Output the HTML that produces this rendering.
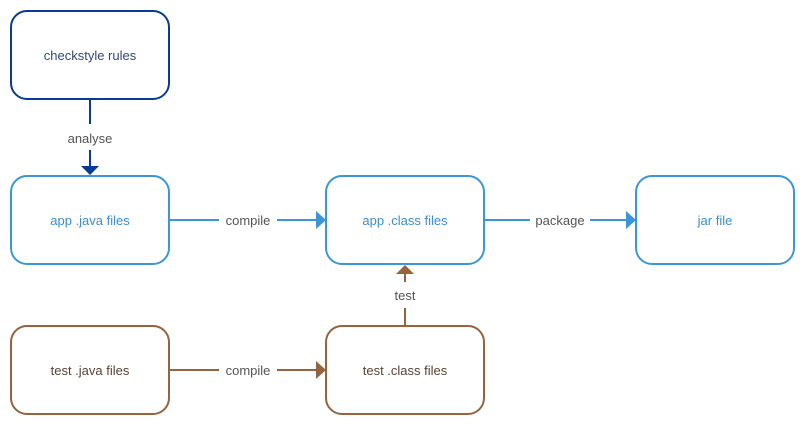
<!DOCTYPE html>
<html><head><style>body{margin:0;background:#fff}</style></head><body>
<svg width="805" height="425" xmlns="http://www.w3.org/2000/svg" font-family="Liberation Sans, sans-serif" font-size="13">
<rect x="11" y="11" width="158" height="88" rx="16" fill="#fff" stroke="#0a3a92" stroke-width="2"/>
<text x="90" y="60" text-anchor="middle" fill="#34497a">checkstyle rules</text>
<g stroke="#3a96d6" stroke-width="2" fill="#fff">
<rect x="11" y="176" width="158" height="88" rx="16"/>
<rect x="326" y="176" width="158" height="88" rx="16"/>
<rect x="636" y="176" width="158" height="88" rx="16"/>
</g>
<g fill="#3a8fcc" text-anchor="middle">
<text x="90" y="225">app .java files</text>
<text x="405" y="225">app .class files</text>
<text x="715" y="225">jar file</text>
</g>
<g stroke="#93643f" stroke-width="2" fill="#fff">
<rect x="11" y="326" width="158" height="88" rx="16"/>
<rect x="326" y="326" width="158" height="88" rx="16"/>
</g>
<g fill="#5a4232" text-anchor="middle">
<text x="90" y="375">test .java files</text>
<text x="405" y="375">test .class files</text>
</g>
<!-- analyse -->
<line x1="90" y1="99" x2="90" y2="124" stroke="#0a3a92" stroke-width="2"/>
<line x1="90" y1="150" x2="90" y2="167" stroke="#0a3a92" stroke-width="2"/>
<polygon points="81,166 99,166 90,175" fill="#0a3a92"/>
<text x="90" y="143" text-anchor="middle" fill="#555">analyse</text>
<!-- compile top -->
<line x1="169" y1="220" x2="219" y2="220" stroke="#3a96d6" stroke-width="2"/>
<line x1="277" y1="220" x2="317" y2="220" stroke="#3a96d6" stroke-width="2"/>
<polygon points="316,211 326,220 316,229" fill="#3a96d6"/>
<text x="248" y="225" text-anchor="middle" fill="#555">compile</text>
<!-- package -->
<line x1="484" y1="220" x2="530" y2="220" stroke="#3a96d6" stroke-width="2"/>
<line x1="590" y1="220" x2="627" y2="220" stroke="#3a96d6" stroke-width="2"/>
<polygon points="626,211 636,220 626,229" fill="#3a96d6"/>
<text x="560" y="225" text-anchor="middle" fill="#555">package</text>
<!-- compile bottom -->
<line x1="169" y1="370" x2="219" y2="370" stroke="#93643f" stroke-width="2"/>
<line x1="277" y1="370" x2="317" y2="370" stroke="#93643f" stroke-width="2"/>
<polygon points="316,361 326,370 316,379" fill="#93643f"/>
<text x="248" y="375" text-anchor="middle" fill="#555">compile</text>
<!-- test -->
<line x1="405" y1="326" x2="405" y2="308" stroke="#93643f" stroke-width="2"/>
<line x1="405" y1="282" x2="405" y2="273" stroke="#93643f" stroke-width="2"/>
<polygon points="396,274 414,274 405,265" fill="#93643f"/>
<text x="405" y="300" text-anchor="middle" fill="#555">test</text>
</svg>
</body></html>
